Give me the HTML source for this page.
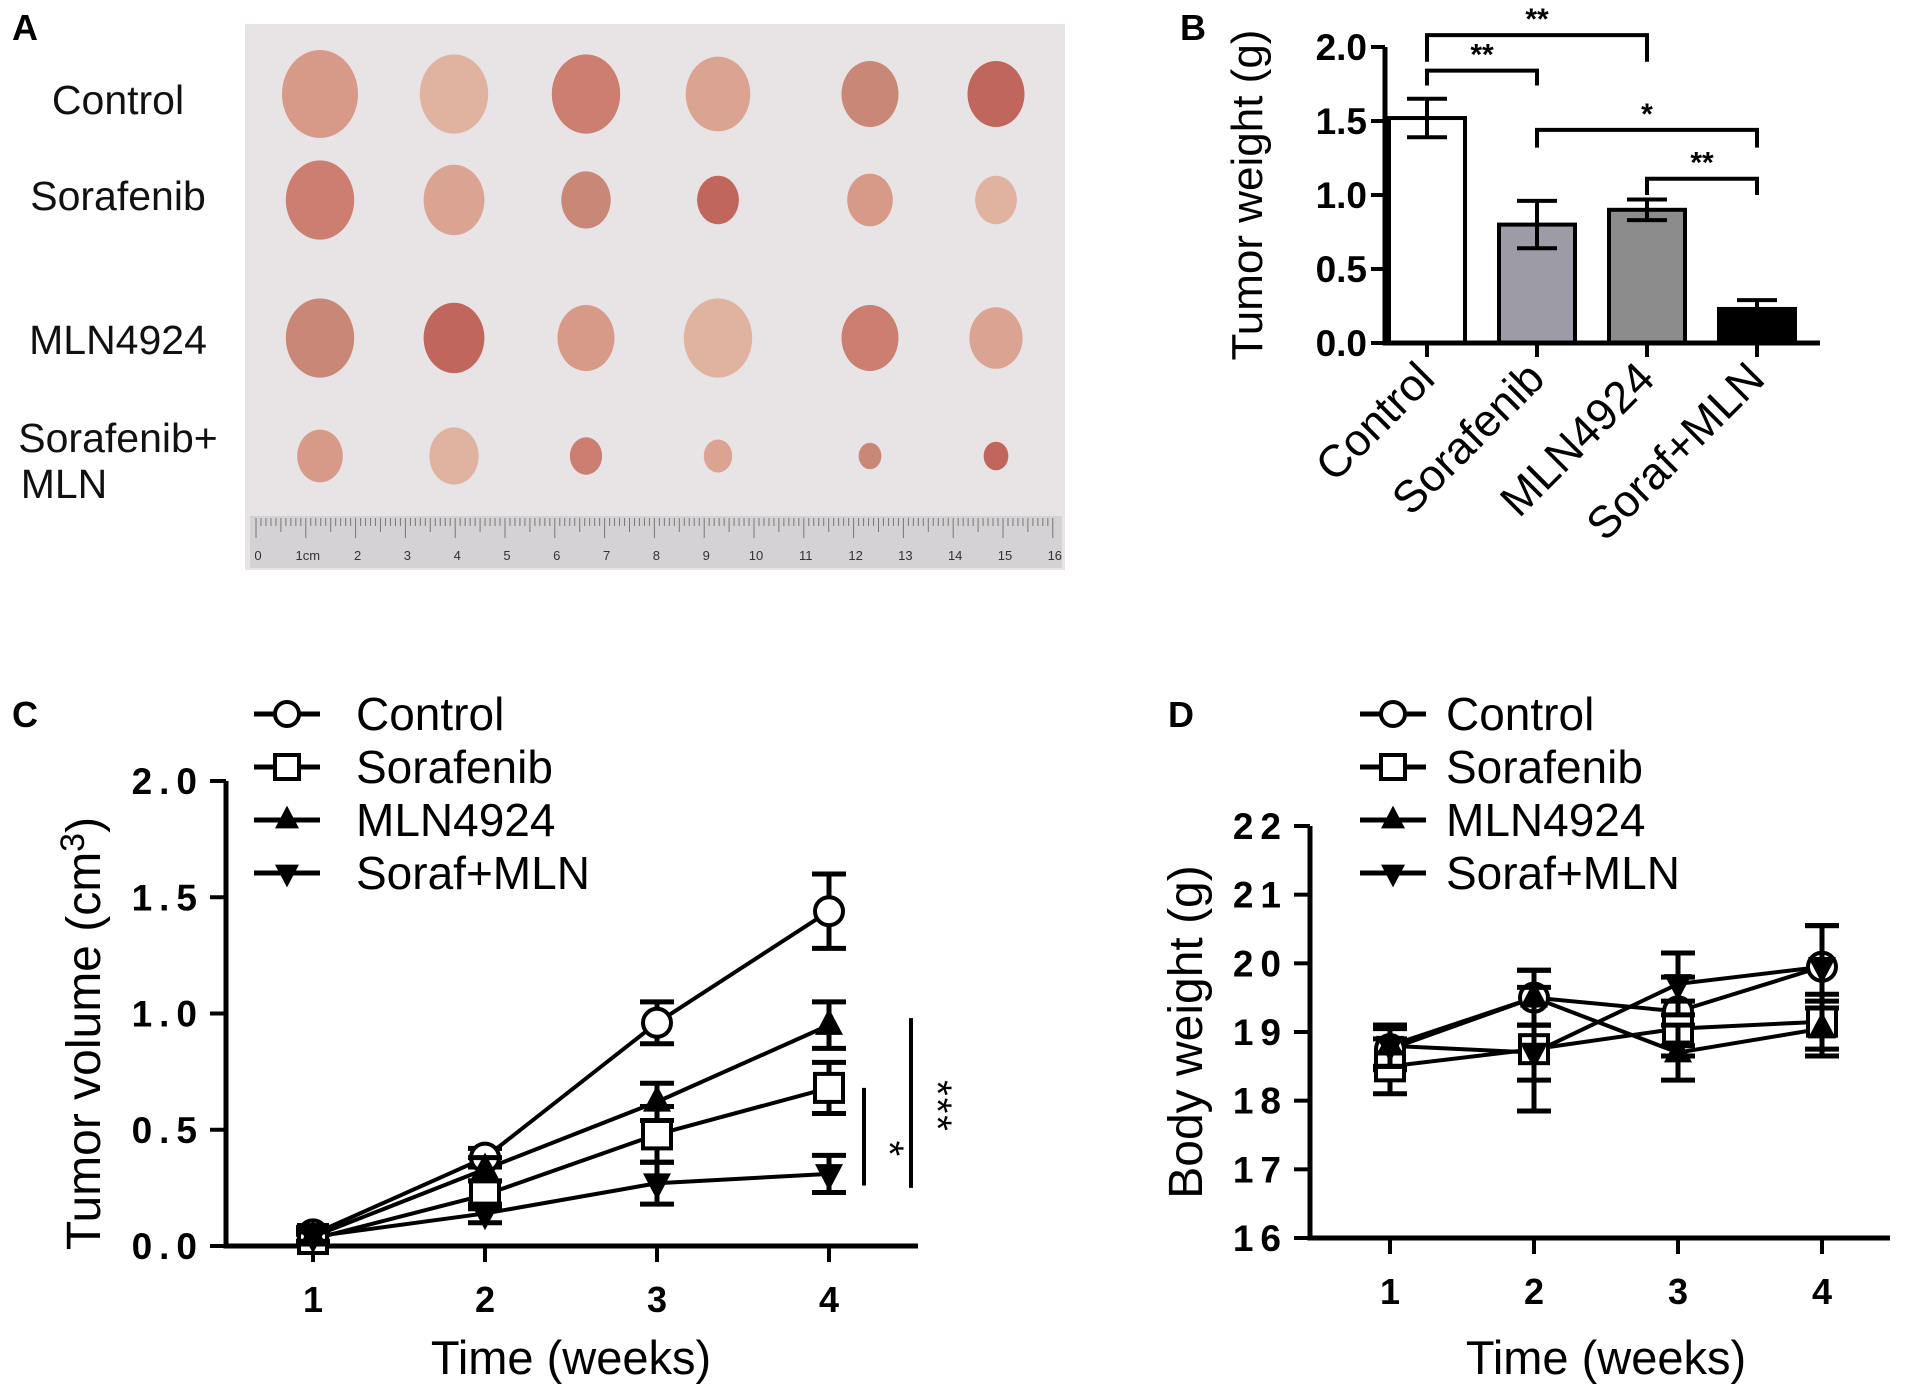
<!DOCTYPE html>
<html><head><meta charset="utf-8"><style>
html,body{margin:0;padding:0;background:#fff}
svg{display:block;font-family:"Liberation Sans",Arial,sans-serif}
</style></head><body>
<svg id="fig" width="1913" height="1396" viewBox="0 0 1913 1396" xmlns="http://www.w3.org/2000/svg">
<g id="panelA">
  <text x="12" y="40" font-size="36" font-weight="bold">A</text>
  <rect x="245" y="24" width="820" height="546" fill="#e8e4e6"/>
  <rect x="250" y="516" width="812" height="52" fill="#d4d2d4"/>
  <g font-size="41" fill="#111" text-anchor="middle" font-family="'Liberation Sans Narrow','Liberation Sans',sans-serif">
    <text x="118" y="114">Control</text>
    <text x="118" y="210">Sorafenib</text>
    <text x="118" y="354">MLN4924</text>
    <text x="118" y="452">Sorafenib+</text>
    <text x="64" y="498">MLN</text>
  </g>
  <g id="tumors"></g>
  <g id="ruler"></g>
</g>
<g id="panelB"></g>
<g id="panelC"></g>
<g id="panelD"></g>
</svg>
<script>
// ---- Panel B data ----
const bCategories = ["Control","Sorafenib","MLN4924","Soraf+MLN"];
const bValues = [1.52, 0.80, 0.90, 0.23];
const bErrors = [0.13, 0.16, 0.07, 0.06];
const bFills = ["#ffffff","#9d9ca6","#8c8c8c","#000000"];
const bTicks = [0.0, 0.5, 1.0, 1.5, 2.0];
// ---- Panel C data ----
const weeks = [1, 2, 3, 4];
const cControl = [0.05, 0.38, 0.96, 1.44];
const cControlErr = [0.03, 0.04, 0.09, 0.16];
const cSoraf = [0.03, 0.22, 0.48, 0.68];
const cSorafErr = [0.02, 0.06, 0.12, 0.11];
const cMLN = [0.04, 0.33, 0.62, 0.95];
const cMLNErr = [0.02, 0.05, 0.08, 0.10];
const cCombo = [0.04, 0.14, 0.27, 0.31];
const cComboErr = [0.02, 0.04, 0.09, 0.08];
const cTicks = [0.0, 0.5, 1.0, 1.5, 2.0];
// ---- Panel D data ----
const dControl = [18.75, 19.5, 19.3, 19.95];
const dControlErr = [0.3, 0.4, 0.5, 0.6];
const dSoraf = [18.5, 18.75, 19.05, 19.15];
const dSorafErr = [0.4, 0.9, 0.4, 0.4];
const dMLN = [18.8, 19.5, 18.7, 19.05];
const dMLNErr = [0.3, 0.4, 0.4, 0.4];
const dCombo = [18.8, 18.7, 19.7, 19.95];
const dComboErr = [0.3, 0.4, 0.45, 0.6];
const dTicks = [16, 17, 18, 19, 20, 21, 22];
const legendNames = ["Control","Sorafenib","MLN4924","Soraf+MLN"];
const markerTypes = ["circle","square","up","down"];

const NS = "http://www.w3.org/2000/svg";
function mk(parent, tag, attrs, text){
  const e = document.createElementNS(NS, tag);
  for (const k in attrs) e.setAttribute(k, attrs[k]);
  if (text !== undefined) e.textContent = text;
  parent.appendChild(e);
  return e;
}
function marker(g, type, x, y, s){
  let el;
  if (type === "circle") el = mk(g, "circle", {cx:x, cy:y, r:s, fill:"#fff", stroke:"#000", "stroke-width":4});
  else if (type === "square") el = mk(g, "rect", {x:x-s, y:y-s, width:2*s, height:2*s, fill:"#fff", stroke:"#000", "stroke-width":4});
  else if (type === "up") el = mk(g, "polygon", {points:`${x},${y-s*1.2} ${x-s},${y+s*0.7} ${x+s},${y+s*0.7}`, fill:"#000"});
  else el = mk(g, "polygon", {points:`${x},${y+s*1.2} ${x-s},${y-s*0.7} ${x+s},${y-s*0.7}`, fill:"#000"});
  return el;
}

// ---- Panel A: tumors & ruler ----
(function(){
  const g = document.getElementById("tumors");
  const rowsY = [94, 200, 338, 456];
  const colsX = [320, 454, 586, 718, 870, 996];
  const sizes = [[40,36,36,34,30,30],[36,32,26,22,24,22],[36,32,30,36,30,28],[24,26,17,15,12,13]];
  const cols = ["#d89a88","#e0b3a0","#cc7e70","#dba392","#c98877","#c0665c"];
  rowsY.forEach((y,r)=>colsX.forEach((x,c)=>{
    const s = sizes[r][c];
    const e = mk(g,"ellipse",{cx:x, cy:y, rx:s*0.95, ry:s*1.1, fill:cols[(r*2+c)%cols.length]});
    
    
  }));
  const rg = document.getElementById("ruler");
  for (let i=0;i<=160;i++){
    const x = 256 + i*4.98;
    mk(rg,"line",{x1:x,y1:518,x2:x,y2:i%10===0?538:(i%5===0?532:526),stroke:"#777","stroke-width":1});
  }
  for (let i=0;i<=16;i++){
    const t = mk(rg,"text",{x:258+i*49.8,y:560,"font-size":13,fill:"#333","text-anchor":"middle"}, i===1?"1cm":String(i));
    
    
  }
})();

// ---- Panel B ----
(function(){
  const g = document.getElementById("panelB");
  const x0 = 1385, xEnd = 1820, yBase = 343, yTop = 47;
  const y = v => yBase - (v/2.0)*(yBase-yTop);
  const centers = bCategories.map((_,i)=>1427 + i*110);
  const bw = 76;
  const lbl = mk(g,"text",{x:1180,y:40,"font-size":36,"font-weight":"bold"},"B");
   
  bValues.forEach((v,i)=>{
    const r = mk(g,"rect",{x:centers[i]-bw/2,y:y(v),width:bw,height:yBase-y(v),fill:bFills[i],stroke:"#000","stroke-width":4});
    
    
    const hi = y(v+bErrors[i]), lo = y(Math.max(0,v-bErrors[i]));
    const eb = mk(g,"path",{d:`M${centers[i]},${hi}V${lo}M${centers[i]-20},${hi}H${centers[i]+20}M${centers[i]-20},${lo}H${centers[i]+20}`,stroke:"#000","stroke-width":4,fill:"none"});
    
    
    const t = mk(g,"text",{transform:`translate(${centers[i]+10},${yBase+38}) rotate(-45)`,"font-size":45,"text-anchor":"end"},bCategories[i]);
    
    
    mk(g,"line",{x1:centers[i],y1:yBase,x2:centers[i],y2:yBase+14,stroke:"#000","stroke-width":4});
  });
  const ax = mk(g,"path",{d:`M${x0},${yTop}V${yBase}H${xEnd}`,stroke:"#000","stroke-width":5,fill:"none"});
   
  bTicks.forEach(v=>{
    mk(g,"line",{x1:x0-14,y1:y(v),x2:x0,y2:y(v),stroke:"#000","stroke-width":4});
    const t = mk(g,"text",{x:x0-18,y:y(v)+13,"font-size":37,"font-weight":"bold","text-anchor":"end"},v.toFixed(1));
     
  });
  const yt = mk(g,"text",{transform:`translate(1262,195) rotate(-90)`,"font-size":44,"text-anchor":"middle"},"Tumor weight (g)");
   
  const brackets = [[0,2,2.08,1.90,"**"],[0,1,1.84,1.74,"**"],[1,3,1.44,1.32,"*"],[2,3,1.11,1.0,"**"]];
  brackets.forEach(b=>{
    const a = centers[b[0]], c = centers[b[1]];
    const p = mk(g,"path",{d:`M${a},${y(b[3])}V${y(b[2])}H${c}V${y(b[3])}`,stroke:"#000","stroke-width":4,fill:"none"});
     
    const s = mk(g,"text",{x:(a+c)/2,y:y(b[2])-6,"font-size":30,"font-weight":"bold","text-anchor":"middle"},b[4]);
     
  });
})();

// ---- line panel helper ----
function linePanel(gid, cfg){
  const g = document.getElementById(gid);
  const y = v => cfg.yBase - (v-cfg.yMin)/(cfg.yMax-cfg.yMin)*(cfg.yBase-cfg.yTop);
  const x = w => cfg.x1 + (w-1)*cfg.dx;
  const lbl = mk(g,"text",{x:cfg.labelX,y:727,"font-size":36,"font-weight":"bold"},cfg.label);
   
  const ax = mk(g,"path",{d:`M${cfg.x0},${cfg.yTop}V${cfg.yBase}H${cfg.xEnd}`,stroke:"#000","stroke-width":5,fill:"none"});
   
  cfg.ticks.forEach(v=>{
    mk(g,"line",{x1:cfg.x0-16,y1:y(v),x2:cfg.x0,y2:y(v),stroke:"#000","stroke-width":4});
    const t = mk(g,"text",{x:cfg.x0-22,y:y(v)+13,"font-size":37,"font-weight":"bold","text-anchor":"end","letter-spacing":"7"},cfg.fmt(v));
     
  });
  weeks.forEach(w=>{
    mk(g,"line",{x1:x(w),y1:cfg.yBase,x2:x(w),y2:cfg.yBase+16,stroke:"#000","stroke-width":4});
    const t = mk(g,"text",{x:x(w),y:cfg.yBase+66,"font-size":36,"font-weight":"bold","text-anchor":"middle"},String(w));
     
  });
  const xt = mk(g,"text",{x:(x(1)+x(4))/2,y:1374,"font-size":47,"text-anchor":"middle"},"Time (weeks)");
   
  const yt = mk(g,"text",{transform:`translate(${cfg.titleX},${(cfg.yTop+cfg.yBase)/2+cfg.titleDy}) rotate(-90)`,"font-size":48,"text-anchor":"middle"},"");
  yt.innerHTML = cfg.title;
   
  cfg.series.forEach((s,si)=>{
    const pts = s.v.map((v,i)=>`${x(weeks[i])},${y(v)}`).join(" ");
    const pl = mk(g,"polyline",{points:pts,fill:"none",stroke:"#000","stroke-width":4});
     
  });
  cfg.series.forEach((s,si)=>{
    s.v.forEach((v,i)=>{
      const cx = x(weeks[i]), hi = y(v+s.e[i]), lo = y(v-s.e[i]);
      const eb = mk(g,"path",{d:`M${cx},${hi}V${lo}M${cx-17},${hi}H${cx+17}M${cx-17},${lo}H${cx+17}`,stroke:"#000","stroke-width":5,fill:"none"});
       
      const m = marker(g, markerTypes[si], cx, y(v), 14);
       
    });
  });
  legendNames.forEach((n,i)=>{
    const ly = 714 + i*53;
    mk(g,"line",{x1:cfg.legX,y1:ly,x2:cfg.legX+66,y2:ly,stroke:"#000","stroke-width":5});
    marker(g, markerTypes[i], cfg.legX+33, ly, 12);
    const t = mk(g,"text",{x:cfg.legX+cfg.legTextDx,y:ly+16,"font-size":46},n);
     
  });
  return {g,y,x};
}
const C = linePanel("panelC",{label:"C",labelX:12,x0:226,xEnd:918,yTop:781,yBase:1246,yMin:0,yMax:2,
  x1:313,dx:172,ticks:cTicks,fmt:v=>v.toFixed(1),titleX:100,titleDy:20,title:'Tumor volume (cm<tspan dy="-16" font-size="34">3</tspan><tspan dy="16">)</tspan>',legX:254,legTextDx:102,
  series:[{v:cControl,e:cControlErr},{v:cSoraf,e:cSorafErr},{v:cMLN,e:cMLNErr},{v:cCombo,e:cComboErr}]});
// significance lines in C
(function(){
  const g = C.g;
  const l1 = mk(g,"line",{x1:864,y1:C.y(0.26),x2:864,y2:C.y(0.68),stroke:"#000","stroke-width":4});
   
  const l2 = mk(g,"line",{x1:911,y1:C.y(0.25),x2:911,y2:C.y(0.98),stroke:"#000","stroke-width":4});
   
  const s1 = mk(g,"text",{transform:`translate(876,${C.y(0.42)}) rotate(90)`,"font-size":40,"text-anchor":"middle"},"*");
   
  const s2 = mk(g,"text",{transform:`translate(924,${C.y(0.6)}) rotate(90)`,"font-size":40,"text-anchor":"middle","letter-spacing":"2"},"***");
   
})();
linePanel("panelD",{label:"D",labelX:1168,x0:1310,xEnd:1890,yTop:826,yBase:1238,yMin:16,yMax:22,
  x1:1390,dx:144,ticks:dTicks,fmt:v=>String(v),titleX:1202,titleDy:0,title:'Body weight (g)',legX:1360,legTextDx:86,
  series:[{v:dControl,e:dControlErr},{v:dSoraf,e:dSorafErr},{v:dMLN,e:dMLNErr},{v:dCombo,e:dComboErr}]});
</script>
</body></html>
